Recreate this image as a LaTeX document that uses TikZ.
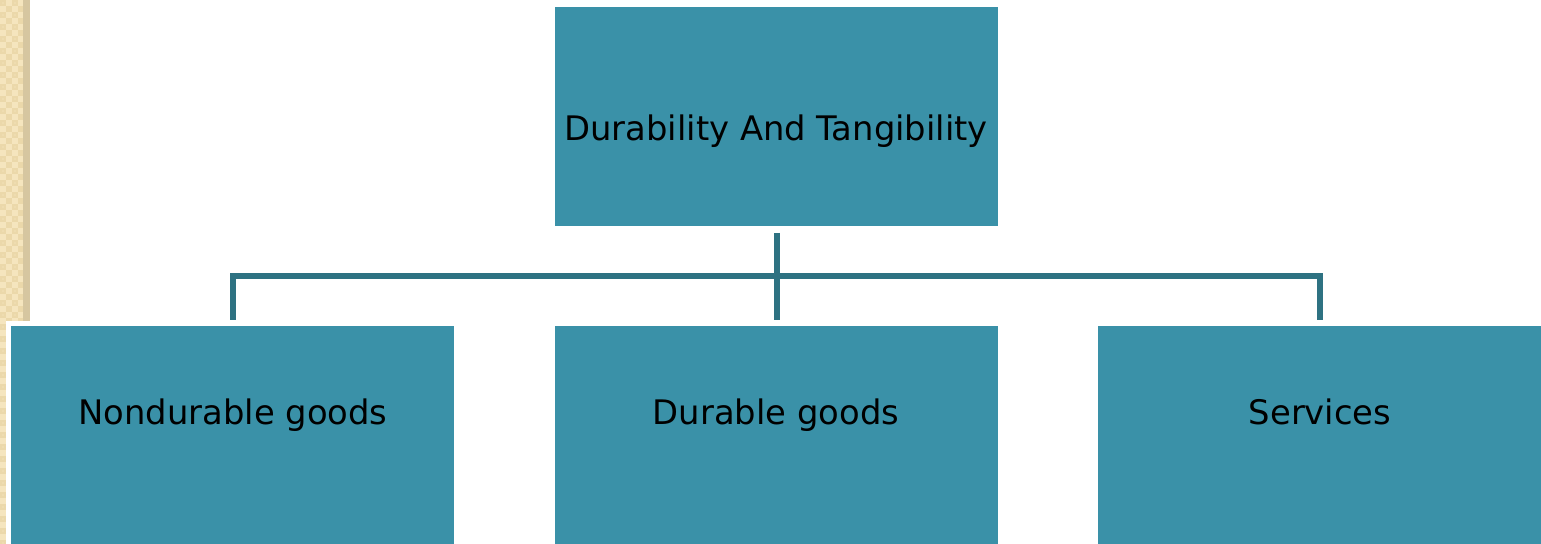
\documentclass[tikz,border=0pt]{standalone}
\usepackage{fontspec}
\setmainfont{DejaVu Sans}
\definecolor{boxfill}{HTML}{3A91A8}
\definecolor{linkcol}{HTML}{2E7282}
\definecolor{beigeA}{HTML}{F5E5BE}
\definecolor{beigeB}{HTML}{EBD8AA}
\definecolor{beigeC}{HTML}{D6C6A0}
\tikzset{
  box/.style={fill=boxfill, draw=none, minimum width=221.5pt, minimum height=109.5pt, inner sep=0, anchor=north west},
  lbl/.style={font=\fontsize{16.9}{20}\selectfont, text=black, inner sep=0, text height=0.72em, text depth=0.22em},
  link/.style={draw=linkcol, line width=2.6pt}
}
\begin{document}
\begin{tikzpicture}[x=0.5pt, y=-0.5pt]
  \useasboundingbox (0,0) rectangle (1541,544);
  \fill[white] (0,0) rectangle (1541,544);
  % textured side strip
  \fill[beigeA] (0,0) rectangle (30,544);
  \foreach \r in {0,...,90} {
    \foreach \c in {0,1} {
      \pgfmathtruncatemacro{\odd}{mod(\r,2)}
      \fill[beigeB] ({\c*12+\odd*6},{\r*6}) rectangle ++(6,6);
    }
  }
  \foreach \r in {0,...,45} {
    \fill[beigeB!70!beigeA] (2,{\r*12+2}) rectangle ++(2,2);
    \fill[beigeB!70!beigeA] (14,{\r*12+2}) rectangle ++(2,2);
  }
  \fill[beigeC] (23,0) rectangle (30,544);
  \fill[white] (6,321) rectangle (1541,544);
  % boxes
  \node[box] (top) at (555,7) {};
  \node[box] (nd) at (11,326) {};
  \node[box] (du) at (555,326) {};
  \node[box] (sv) at (1098,326) {};
  \node[lbl] (tt) at (776,136) {Durability And Tangibility};
  \node[lbl] (ndt) at (233,420) {Nondurable goods};
  \node[lbl] (dut) at (776,420) {Durable goods};
  \node[lbl] (svt) at (1320,420) {Services};
  % connectors
  \coordinate (hub) at (776,276);
  \draw[link] ([yshift=-3pt]top.south) -- ([yshift=3pt]du.north);
  \draw[link] ([yshift=3pt]nd.north -| ndt) -- (hub -| ndt) -- (hub -| svt) -- ([yshift=3pt]sv.north -| svt);
\end{tikzpicture}
\end{document}
